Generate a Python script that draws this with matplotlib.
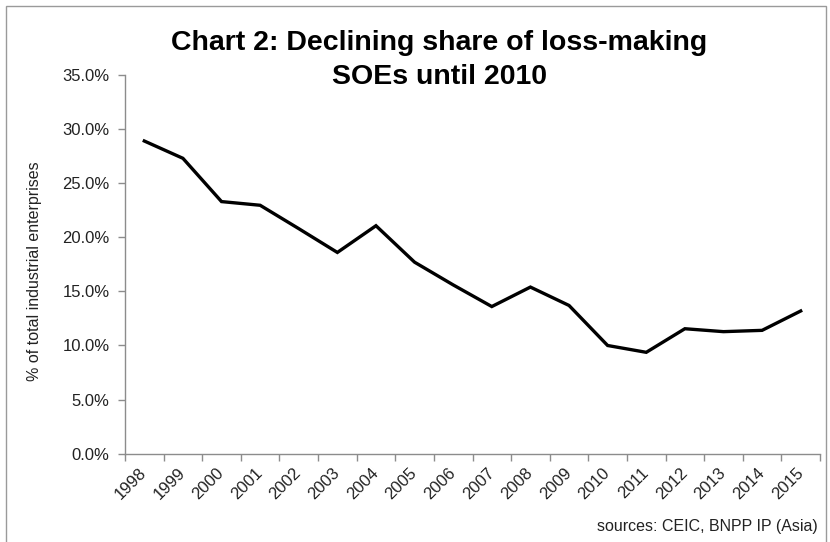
import matplotlib
matplotlib.use("Agg")
import matplotlib.pyplot as plt
from matplotlib.ticker import FuncFormatter, FixedLocator
from matplotlib.patches import Rectangle

years = ["1998", "1999", "2000", "2001", "2002", "2003", "2004", "2005", "2006",
         "2007", "2008", "2009", "2010", "2011", "2012", "2013", "2014", "2015"]
share = [28.9, 27.3, 23.3, 22.96, 20.8, 18.6, 21.07, 17.7, 15.6,
         13.6, 15.4, 13.7, 10.0, 9.37, 11.55, 11.28, 11.4, 13.19]
y_ticks = [0, 5, 10, 15, 20, 25, 30, 35]

plt.rcParams['font.family'] = ['Liberation Sans', 'DejaVu Sans']

W, H = 830, 542
fig = plt.figure(figsize=(W / 100, H / 100), dpi=100)
ax = fig.add_axes([125 / W, 1 - 453.7 / H, (820 - 125) / W, (453.7 - 75) / H])

x = list(range(len(years)))
ax.plot(x, share, color='black', lw=2.4, solid_joinstyle='miter')

ax.set_xlim(-0.5, len(years) - 0.5)
ax.set_ylim(0, 35)
ax.set_yticks(y_ticks)
ax.yaxis.set_major_formatter(FuncFormatter(lambda v, p: f"{v:.1f}%"))
ax.set_xticks(x)
ax.set_xticklabels(years, rotation=45, ha='right', va='center', rotation_mode='anchor')
ax.xaxis.set_minor_locator(FixedLocator([i - 0.5 for i in range(len(years) + 1)]))

spine_col = '#8c8c8c'
for s in ['top', 'right']:
    ax.spines[s].set_visible(False)
for s in ['left', 'bottom']:
    ax.spines[s].set_color(spine_col)
    ax.spines[s].set_linewidth(1.0)

ax.tick_params(axis='y', which='major', direction='out', length=5, width=1,
               color=spine_col, labelsize=12, pad=6, labelcolor='#222222')
ax.tick_params(axis='x', which='major', length=0, labelsize=12, pad=12, labelcolor='#222222')
ax.tick_params(axis='x', which='minor', direction='out', length=5, width=1, color=spine_col)

ax.set_ylabel("% of total industrial enterprises", fontsize=11.5, color='#222222')
ax.yaxis.set_label_coords(-0.12, 0.482)

fig.text(439 / W, 1 - 50 / H, "Chart 2: Declining share of loss-making",
         ha='center', va='baseline', fontsize=20.5, fontweight='bold')
fig.text(439 / W, 1 - 84 / H, "SOEs until 2010",
         ha='center', va='baseline', fontsize=20.5, fontweight='bold')

fig.text(818 / W, 1 - 527 / H, "sources: CEIC, BNPP IP (Asia)",
         ha='right', va='center', fontsize=11.5, color='#222222')

fig.patches.append(Rectangle((6 / W, -0.05), (826 - 6) / W, 1 - 6 / H + 0.05,
                             transform=fig.transFigure, fill=False,
                             edgecolor='#9a9a9a', lw=1.0))

fig.savefig("out.png", dpi=100)
